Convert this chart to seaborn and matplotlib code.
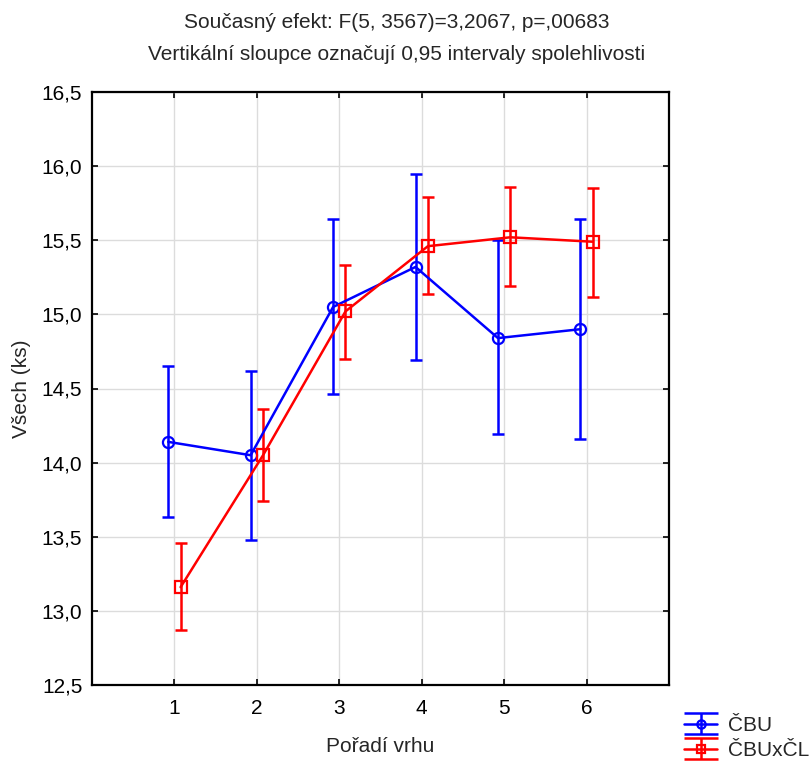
import matplotlib
matplotlib.use("Agg")
import matplotlib.pyplot as plt
import seaborn as sns
import pandas as pd
import numpy as np
from matplotlib.legend_handler import HandlerErrorbar
from matplotlib.container import ErrorbarContainer
from matplotlib.lines import Line2D

# Data
positions = [1, 2, 3, 4, 5, 6]
x_ticklabels = ["1", "2", "3", "4", "5", "6"]
series_names = ["ČBU", "ČBUxČL"]

cbu_mean = [14.14, 14.05, 15.05, 15.32, 14.84, 14.90]
cbu_low = [13.63, 13.48, 14.46, 14.69, 14.19, 14.16]
cbu_high = [14.65, 14.62, 15.64, 15.95, 15.50, 15.64]

cbl_mean = [13.16, 14.05, 15.02, 15.46, 15.52, 15.49]
cbl_low = [12.87, 13.74, 14.70, 15.14, 15.19, 15.12]
cbl_high = [13.46, 14.36, 15.33, 15.79, 15.86, 15.85]

y_ticks = [12.5, 13.0, 13.5, 14.0, 14.5, 15.0, 15.5, 16.0, 16.5]

title_line1 = "Současný efekt: F(5, 3567)=3,2067, p=,00683"
title_line2 = "Vertikální sloupce označují 0,95 intervaly spolehlivosti"
x_label = "Pořadí vrhu"
y_label = "Všech (ks)"

sns.set_style("white")
plt.rcParams["font.family"] = ["Liberation Sans", "DejaVu Sans"]

FS = 15

fig = plt.figure(figsize=(8.09, 7.63), dpi=100)
ax = fig.add_axes([92 / 809, 1 - 685 / 763, (669 - 92) / 809, (685 - 92) / 763])

styles = [
    dict(color="#0000ff", marker="o", dodge=-0.075),
    dict(color="#ff0000", marker="s", dodge=0.075),
]
means = [cbu_mean, cbl_mean]
lows = [cbu_low, cbl_low]
highs = [cbu_high, cbl_high]

handles = []
for name, st, m, lo, hi in zip(series_names, styles, means, lows, highs):
    df = pd.DataFrame({
        "pos": np.array(positions, dtype=float) + st["dodge"],
        "mean": m,
        "low": lo,
        "high": hi,
    })
    sns.lineplot(data=df, x="pos", y="mean", ax=ax, color=st["color"],
                 marker=st["marker"], markersize=8, markerfacecolor="none",
                 markeredgecolor=st["color"], markeredgewidth=1.6,
                 linewidth=1.8, legend=False, zorder=3)
    line = ax.lines[-1]
    eb = ax.errorbar(df["pos"], df["mean"],
                     yerr=[df["mean"] - df["low"], df["high"] - df["mean"]],
                     fmt="none", ecolor=st["color"], elinewidth=1.8,
                     capsize=4, capthick=1.8, zorder=2)
    handles.append((line, eb))

ax.set_xlim(0, 7)
ax.set_ylim(12.5, 16.5)
ax.set_xticks(positions)
ax.set_xticklabels(x_ticklabels)
ax.set_yticks(y_ticks)
ax.set_yticklabels([f"{v:.1f}".replace(".", ",") for v in y_ticks])
ax.grid(True, color="#dcdcdc", linewidth=1.0)
ax.set_axisbelow(True)
for sp in ax.spines.values():
    sp.set_color("black")
    sp.set_linewidth(1.6)
ax.tick_params(axis="both", which="both", direction="in", length=4, width=1.2,
               top=True, right=True, bottom=True, left=True,
               labelsize=FS, colors="black")
ax.tick_params(axis="x", pad=10)
ax.tick_params(axis="y", pad=7)
ax.set_xlabel(x_label, fontsize=FS, labelpad=14)
ax.set_ylabel(y_label, fontsize=FS, labelpad=8)

fig.text(0.490, 1 - 23 / 763, title_line1, ha="center", va="center", fontsize=FS)
fig.text(0.490, 1 - 55 / 763, title_line2, ha="center", va="center", fontsize=FS)


class WideCapHandler(HandlerErrorbar):
    def create_artists(self, legend, orig_handle, xdescent, ydescent,
                       width, height, fontsize, trans):
        artists = super().create_artists(legend, orig_handle, xdescent, ydescent,
                                         width, height, fontsize, trans)
        for a in artists:
            if isinstance(a, Line2D) and a.get_marker() == "_":
                a.set_markersize(width)
        return artists


fig.legend(handles, series_names, loc="center left",
           bbox_to_anchor=(684 / 809, 1 - 738 / 763),
           frameon=False, fontsize=FS, handlelength=1.6, handletextpad=0.5,
           labelspacing=0.3, borderpad=0, borderaxespad=0, markerscale=0.75,
           handler_map={ErrorbarContainer: WideCapHandler()})

fig.savefig("out.png", dpi=100)
